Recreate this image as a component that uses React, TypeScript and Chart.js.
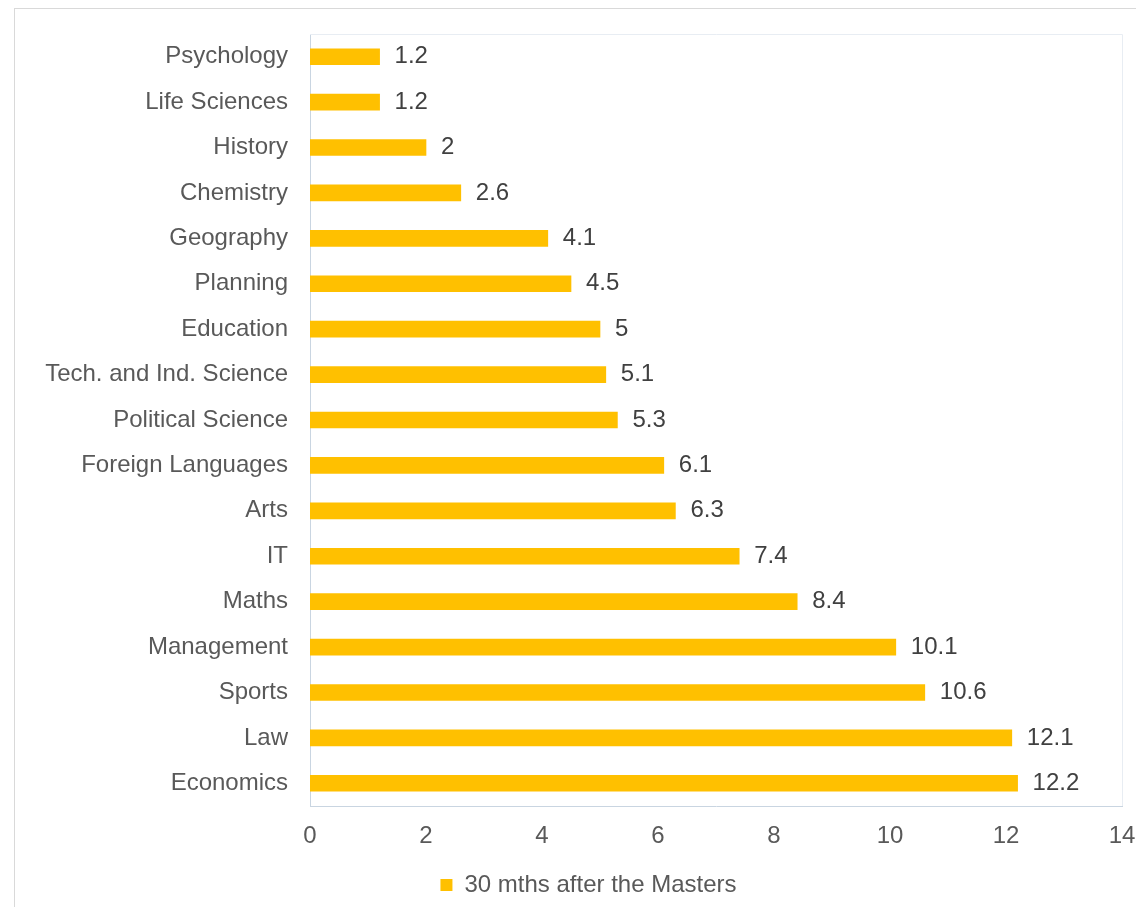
import React, { useEffect, useRef } from "react";
import { Chart, registerables } from "chart.js";

Chart.register(...registerables);

const categories = [
  "Psychology",
  "Life Sciences",
  "History",
  "Chemistry",
  "Geography",
  "Planning",
  "Education",
  "Tech. and Ind. Science",
  "Political Science",
  "Foreign Languages",
  "Arts",
  "IT",
  "Maths",
  "Management",
  "Sports",
  "Law",
  "Economics",
];
const values = [1.2, 1.2, 2, 2.6, 4.1, 4.5, 5, 5.1, 5.3, 6.1, 6.3, 7.4, 8.4, 10.1, 10.6, 12.1, 12.2];
const seriesName = "30 mths after the Masters";
const xTicks = [0, 2, 4, 6, 8, 10, 12, 14];

const FONT = "Arial, 'Liberation Sans', sans-serif";
const BAR = "#FFC000";

const valueLabels = {
  id: "valueLabels",
  afterDatasetsDraw(chart: any) {
    const ctx = chart.ctx;
    const meta = chart.getDatasetMeta(0);
    ctx.save();
    ctx.font = `24px ${FONT}`;
    ctx.fillStyle = "#404040";
    ctx.textAlign = "left";
    ctx.textBaseline = "middle";
    meta.data.forEach((el: any, i: number) => {
      ctx.fillText(String(values[i]), el.x + 15, el.y);
    });
    ctx.restore();
  },
};

const plotFrame = {
  id: "plotFrame",
  beforeDatasetsDraw(chart: any) {
    const { ctx, chartArea } = chart;
    ctx.save();
    ctx.strokeStyle = "#e8edf3";
    ctx.lineWidth = 1;
    ctx.beginPath();
    ctx.moveTo(chartArea.left, chartArea.top + 0.5);
    ctx.lineTo(chartArea.right + 0.5, chartArea.top + 0.5);
    ctx.lineTo(chartArea.right + 0.5, chartArea.bottom);
    ctx.stroke();
    ctx.restore();
  },
};

const legendShift = {
  id: "legendShift",
  afterLayout(chart: any) {
    if (chart.legend) {
      chart.legend.left += 20;
      chart.legend.right += 20;
    }
  },
};

function zeroPad(scale: any) {
  scale.paddingTop = 0;
  scale.paddingBottom = 0;
  scale.paddingLeft = 0;
  scale.paddingRight = 0;
}

export default function App() {
  const ref = useRef<HTMLCanvasElement>(null);

  useEffect(() => {
    document.body.style.overflow = "hidden";
    const chart = new Chart(ref.current!, {
      type: "bar",
      data: {
        labels: categories,
        datasets: [
          {
            label: seriesName,
            data: values,
            backgroundColor: BAR,
            borderWidth: 0,
            barThickness: 16,
          },
        ],
      },
      options: {
        indexAxis: "y",
        responsive: false,
        animation: false,
        devicePixelRatio: 1,
        layout: { padding: { top: 25, right: 22, left: 0, bottom: 0 } },
        scales: {
          x: {
            min: 0,
            max: 14,
            afterBuildTicks(scale: any) {
              scale.ticks = xTicks.map((v) => ({ value: v }));
            },
            afterFit(scale: any) {
              scale.height = 57;
              zeroPad(scale);
            },
            grid: { display: false, drawTicks: false },
            border: { display: true, color: "#c9d5e1", width: 1 },
            ticks: {
              padding: 16,
              color: "#595959",
              font: { size: 24, family: FONT },
              maxRotation: 0,
            },
          },
          y: {
            afterFit(scale: any) {
              scale.width = 295;
              zeroPad(scale);
            },
            grid: { display: false, drawTicks: false },
            border: { display: true, color: "#c9d5e1", width: 1 },
            ticks: {
              padding: 22,
              color: "#595959",
              font: { size: 24, family: FONT },
              autoSkip: false,
            },
          },
        },
        plugins: {
          legend: {
            position: "bottom",
            labels: {
              boxWidth: 12,
              boxHeight: 12,
              padding: 10,
              color: "#595959",
              font: { size: 24, family: FONT },
            },
          },
          tooltip: { enabled: false },
        },
      },
      plugins: [valueLabels, plotFrame, legendShift],
    });
    return () => chart.destroy();
  }, []);

  return (
    <div
      style={{
        marginLeft: 6,
        width: 1129,
        height: 898,
        borderTop: "1px solid #d9d9d9",
        borderLeft: "1px solid #d9d9d9",
        background: "#fff",
      }}
    >
      <canvas ref={ref} width={1129} height={898} style={{ display: "block" }} />
    </div>
  );
}
